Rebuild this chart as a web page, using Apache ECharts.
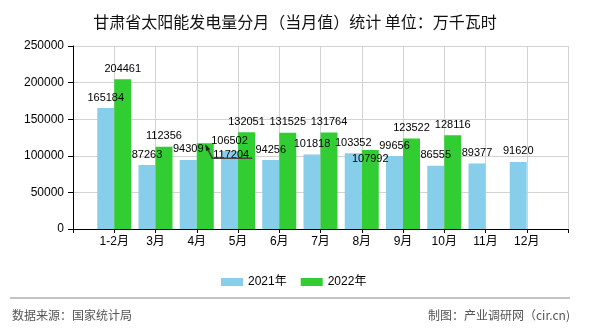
<!DOCTYPE html>
<html>
<head>
<meta charset="utf-8">
<script src="https://cdn.jsdelivr.net/npm/echarts@6/dist/echarts.min.js"></script>
<style>
html,body{margin:0;padding:0;background:#fff;}
#chart{width:590px;height:330px;}
</style>
</head>
<body>
<div id="chart"></div>
<script>
const titleText = '甘肃省太阳能发电量分月（当月值）统计 单位：万千瓦时';
const months = ['1-2月','3月','4月','5月','6月','7月','8月','9月','10月','11月','12月'];
const seriesNames = ['2021年','2022年'];
const values2021 = [165184, 87263, 94309, 106502, 94256, 101818, 103352, 99656, 86555, 89377, 91620];
const values2022 = [204461, 112356, 117204, 132051, 131525, 131764, 107992, 123522, 128116, null, null];
const yTicks = [0, 50000, 100000, 150000, 200000, 250000];
const sourceText = '数据来源：国家统计局';
const makerText = '制图：产业调研网（cir.cn)';

const NUM_FONT = '"Liberation Sans","Noto Sans CJK SC",sans-serif';
const CJK_FONT = '"Noto Sans CJK SC",sans-serif';

// pad categories so the month bars sit on the inner grid lines
const cats = [''].concat(months).concat(['']);
function pad(arr){ return ['-'].concat(arr.map(v => v == null ? '-' : v)).concat(['-']); }

const footer = [
  {type: 'line', shape: {x1: 10, y1: 298, x2: 570, y2: 298}, style: {stroke: '#888', lineWidth: 1}},
  {type: 'text', left: 12, top: 309, style: {text: sourceText, font: '12px ' + CJK_FONT, fill: '#555'}},
  {type: 'text', right: 20, top: 309, style: {text: makerText, font: '12px ' + CJK_FONT, fill: '#555'}}
];

const chart = echarts.init(document.getElementById('chart'), null, {renderer: 'canvas'});
chart.setOption({
  animation: false,
  backgroundColor: '#fff',
  title: {
    text: titleText, left: 'center', top: 9,
    textStyle: {fontSize: 16, fontWeight: 'normal', color: '#111', fontFamily: CJK_FONT}
  },
  grid: {left: 73, right: 22, top: 46, bottom: 101, containLabel: false},
  legend: {
    data: seriesNames, left: 216, top: 271, icon: 'rect', itemWidth: 22, itemHeight: 8, itemGap: 14,
    textStyle: {fontSize: 12, color: '#000', fontFamily: NUM_FONT}
  },
  xAxis: {
    type: 'category', data: cats, boundaryGap: false,
    axisLine: {lineStyle: {color: '#000', width: 1}},
    axisTick: {show: true, length: 4, lineStyle: {color: '#000'}},
    axisLabel: {fontSize: 12, color: '#000', margin: 7, fontFamily: NUM_FONT, interval: 0},
    splitLine: {show: true, lineStyle: {color: '#d3d3d3', width: 1}}
  },
  yAxis: {
    type: 'value', min: yTicks[0], max: yTicks[yTicks.length - 1], interval: yTicks[1] - yTicks[0],
    axisLine: {show: true, lineStyle: {color: '#000', width: 1}},
    axisTick: {show: true, length: 5, lineStyle: {color: '#000'}},
    axisLabel: {fontSize: 12, color: '#000', margin: 9, fontFamily: NUM_FONT, formatter: v => String(v)},
    splitLine: {show: true, lineStyle: {color: '#d3d3d3', width: 1}}
  },
  series: [
    {
      name: seriesNames[0], type: 'bar', data: pad(values2021), barWidth: 17, barGap: '0%',
      itemStyle: {color: '#87CEEB'},
      label: {show: true, position: 'top', distance: 5, fontSize: 11, color: '#000', fontFamily: NUM_FONT}
    },
    {
      name: seriesNames[1], type: 'bar', data: pad(values2022), barWidth: 17, barGap: '0%',
      itemStyle: {color: '#32CD32'},
      label: {show: true, position: 'top', distance: 5, fontSize: 11, color: '#000', fontFamily: NUM_FONT},
      labelLayout: function (p) {
        if (p.dataIndex === 3) return {dx: 26, dy: 22};
        if (p.dataIndex === 7) return {dy: 20};
        return {};
      }
    }
  ],
  graphic: footer
});

// leader arrow for the moved 4月 2022 label, positioned through the chart's own scales
const p = chart.convertToPixel({xAxisIndex: 0, yAxisIndex: 0}, [3, values2022[2]]);
const bx = p[0] + 8.5, by = p[1];
chart.setOption({
  graphic: footer.concat([
    {type: 'polyline', z: 100, shape: {points: [[bx + 1, by + 3], [bx + 7, by + 15], [bx + 47, by + 15]]},
     style: {stroke: '#444', lineWidth: 1.5, fill: null}},
    {type: 'polygon', z: 100, shape: {points: [[bx, by + 1], [bx + 5, by + 6], [bx + 1, by + 8]]},
     style: {fill: '#222'}}
  ])
}, {replaceMerge: ['graphic']});
</script>
</body>
</html>
